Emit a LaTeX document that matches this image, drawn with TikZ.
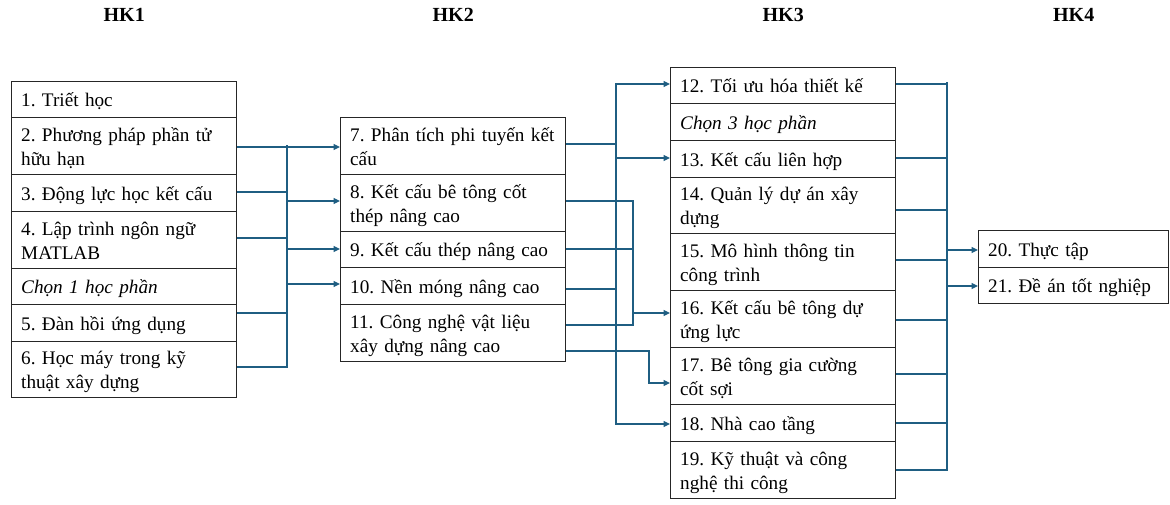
\documentclass[tikz,border=0pt]{standalone}
\usepackage{fontspec}
\setmainfont{Liberation Serif}
\usetikzlibrary{arrows.meta}
\definecolor{lnk}{RGB}{31,94,130}
\newcommand\mystrut{\rule[-5pt]{0pt}{24pt}}
\newcommand\lyne[1]{\mystrut\mbox{#1}}
\newcommand\jline[1]{\mystrut\makebox[206pt][s]{#1}}
\begin{document}
\frenchspacing
\begin{tikzpicture}[x=1pt,y=-1pt,
  cell/.style={draw=black!85, line width=1.4pt, anchor=north west, inner xsep=9.5pt, inner ysep=0pt,
    text width=#1, align=left, font=\fontsize{19.2}{24}\selectfont},
  cell/.default=206pt,
  hd/.style={anchor=base, font=\bfseries\fontsize{20}{24}\selectfont},
  link/.style={draw=lnk, line width=1.2pt, line cap=rect},
  arr/.style={draw=lnk, line width=1.2pt, -{Triangle[length=6.5pt,width=6pt]}}]
\useasboundingbox (0,0) rectangle (1170,505);
% HK1
\node[cell, minimum height=36] (n1) at (11,81) {\lyne{1. Triết học}};
\node[cell, minimum height=57] (n2) at (11,117) {\jline{2. Phương pháp phần tử}\\\lyne{hữu hạn}};
\node[cell, minimum height=37] (n3) at (11,174) {\lyne{3. Động lực học kết cấu}};
\node[cell, minimum height=57] (n4) at (11,211) {\jline{4. Lập trình ngôn ngữ}\\\lyne{MATLAB}};
\node[cell, minimum height=36] (c1) at (11,268) {\lyne{\itshape Chọn 1 học phần}};
\node[cell, minimum height=37] (n5) at (11,304) {\lyne{5. Đàn hồi ứng dụng}};
\node[cell, minimum height=56] (n6) at (11,341) {\jline{6. Học máy trong kỹ}\\\lyne{thuật xây dựng}};
% HK2
\node[cell, minimum height=57] (n7) at (340,117) {\lyne{7. Phân tích phi tuyến kết}\\\lyne{cấu}};
\node[cell, minimum height=57] (n8) at (340,174) {\lyne{8. Kết cấu bê tông cốt}\\\lyne{thép nâng cao}};
\node[cell, minimum height=36] (n9) at (340,231) {\lyne{9. Kết cấu thép nâng cao}};
\node[cell, minimum height=37] (n10) at (340,267) {\lyne{10. Nền móng nâng cao}};
\node[cell, minimum height=57] (n11) at (340,304) {\lyne{11. Công nghệ vật liệu}\\\lyne{xây dựng nâng cao}};
% HK3
\node[cell, minimum height=36] (n12) at (670,67) {\lyne{12. Tối ưu hóa thiết kế}};
\node[cell, minimum height=37] (c3) at (670,103) {\lyne{\itshape Chọn 3 học phần}};
\node[cell, minimum height=37] (n13) at (670,140) {\lyne{13. Kết cấu liên hợp}};
\node[cell, minimum height=56] (n14) at (670,177) {\lyne{14. Quản lý dự án xây}\\\lyne{dựng}};
\node[cell, minimum height=57] (n15) at (670,233) {\lyne{15. Mô hình thông tin}\\\lyne{công trình}};
\node[cell, minimum height=57] (n16) at (670,290) {\lyne{16. Kết cấu bê tông dự}\\\lyne{ứng lực}};
\node[cell, minimum height=57] (n17) at (670,347) {\lyne{17. Bê tông gia cường}\\\lyne{cốt sợi}};
\node[cell, minimum height=37] (n18) at (670,404) {\lyne{18. Nhà cao tầng}};
\node[cell, minimum height=57] (n19) at (670,441) {\lyne{19. Kỹ thuật và công}\\\lyne{nghệ thi công}};
% HK4
\node[cell=171pt, minimum height=37] (n20) at (978,230) {\lyne{20. Thực tập}};
\node[cell=171pt, minimum height=36] (n21) at (978,267) {\lyne{21. Đề án tốt nghiệp}};
% headers
\node[hd] (h1) at (n1.north |- 0,22) {HK1};
\node[hd] (h2) at (n7.north |- 0,22) {HK2};
\node[hd] (h3) at (n12.north |- 0,22) {HK3};
\node[hd] (h4) at (n20.north |- 0,22) {HK4};
% buses
\coordinate (bA) at (287,0);
\coordinate (bB) at (616,0);
\coordinate (bC) at (633,0);
\coordinate (bE) at (649,0);
\coordinate (bD) at (947,0);
% HK1 -> HK2
\draw[link] (bA |- 0,146) -- (bA |- 0,367);
\draw[arr] (n2.east |- 0,147) -- (n7.west |- 0,147);
\draw[link] (n3.east |- 0,192) -- (bA |- 0,192);
\draw[link] (n4.east |- 0,238) -- (bA |- 0,238);
\draw[link] (n5.east |- 0,313) -- (bA |- 0,313);
\draw[link] (n6.east |- 0,367) -- (bA |- 0,367);
\draw[arr] (bA |- 0,201) -- (n8.west |- 0,201);
\draw[arr] (bA |- 0,249) -- (n9.west |- 0,249);
\draw[arr] (bA |- 0,284) -- (n10.west |- 0,284);
% HK2 -> HK3
\draw[link] (bB |- 0,84) -- (bB |- 0,424);
\draw[link] (n7.east |- 0,144) -- (bB |- 0,144);
\draw[link] (n10.east |- 0,289) -- (bB |- 0,289);
\draw[arr] (bB |- 0,84) -- (n12.west |- 0,84);
\draw[arr] (bB |- 0,158) -- (n13.west |- 0,158);
\draw[arr] (bB |- 0,424) -- (n18.west |- 0,424);
\draw[link] (bC |- 0,201) -- (bC |- 0,325);
\draw[link] (n8.east |- 0,201) -- (bC |- 0,201);
\draw[link] (n9.east |- 0,249) -- (bC |- 0,249);
\draw[link] (n11.east |- 0,325) -- (bC |- 0,325);
\draw[arr] (bC |- 0,313) -- (n16.west |- 0,313);
\draw[arr] (n11.east |- 0,351) -| (bE |- 0,383) -- (n17.west |- 0,383);
% HK3 -> HK4
\draw[link] (bD |- 0,83) -- (bD |- 0,470);
\draw[link] (n12.east |- 0,84) -- (bD |- 0,84);
\draw[link] (n13.east |- 0,158) -- (bD |- 0,158);
\draw[link] (n14.east |- 0,210) -- (bD |- 0,210);
\draw[link] (n15.east |- 0,260) -- (bD |- 0,260);
\draw[link] (n16.east |- 0,320) -- (bD |- 0,320);
\draw[link] (n17.east |- 0,374) -- (bD |- 0,374);
\draw[link] (n18.east |- 0,423) -- (bD |- 0,423);
\draw[link] (n19.east |- 0,470) -- (bD |- 0,470);
\draw[arr] (bD |- 0,250) -- (n20.west |- 0,250);
\draw[arr] (bD |- 0,286) -- (n21.west |- 0,286);
\end{tikzpicture}
\end{document}
